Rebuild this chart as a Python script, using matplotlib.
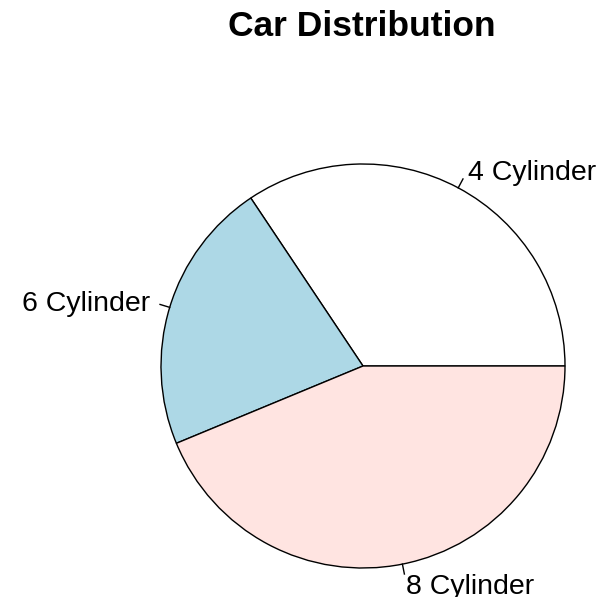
import matplotlib
matplotlib.use("Agg")
import matplotlib.pyplot as plt
import numpy as np

categories = ["4 Cylinder", "6 Cylinder", "8 Cylinder"]
counts = [11, 7, 14]
colors = ["white", "lightblue", "mistyrose"]

W, H = 611, 597
fig = plt.figure(figsize=(W / 100, H / 100), dpi=100)
ax = fig.add_axes([0, 0, 1, 1])

cx, cy, r = 363, H - 366, 202
wedges, _ = ax.pie(counts, colors=colors, startangle=0, counterclock=True,
                   center=(cx, cy), radius=r, frame=True,
                   wedgeprops=dict(edgecolor="black", linewidth=1.0))
ax.set_xlim(0, W)
ax.set_ylim(0, H)
ax.set_aspect("equal")
ax.axis("off")

total = sum(counts)
start = 0.0
for lab, c in zip(categories, counts):
    ang = np.deg2rad((start + c / 2) / total * 360)
    start += c
    dx, dy = np.cos(ang), np.sin(ang)
    ax.plot([cx + r * dx, cx + 1.05 * r * dx], [cy + r * dy, cy + 1.05 * r * dy],
            color="black", lw=1.0)
    ax.text(cx + 1.1 * r * dx, cy + 1.1 * r * dy - 10, lab,
            ha="left" if dx > 0 else "right", va="baseline",
            fontsize=20.5, family="Liberation Sans")

fig.text(362 / W, 1 - 36 / H, "Car Distribution", ha="center", va="baseline",
         fontsize=25.5, fontweight="bold", family="Liberation Sans")

fig.savefig("out.png", dpi=100, facecolor="white")
